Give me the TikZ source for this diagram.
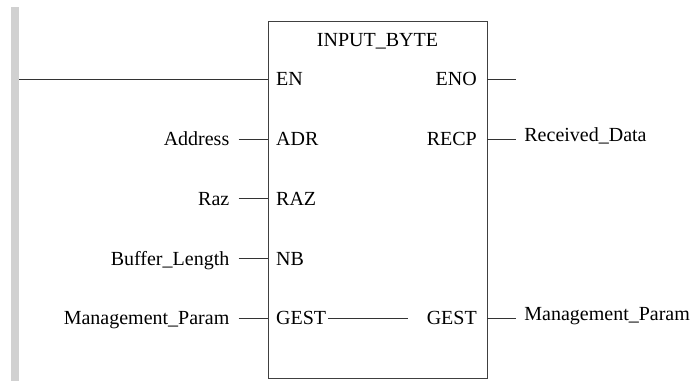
\documentclass[tikz,border=0pt]{standalone}
\usepackage{fontspec}
\setmainfont{Liberation Serif}
\begin{document}
\begin{tikzpicture}[x=1pt,y=-1pt,
  wire/.style={draw=black!80, line width=1pt},
  txt/.style={font=\fontsize{20}{24}\selectfont, inner ysep=0pt, text height=13.2pt, text depth=0pt, text=black},
  lext/.style={txt, anchor=east, inner xsep=9pt},
  lpin/.style={txt, anchor=west, inner xsep=8pt},
  rpin/.style={txt, anchor=east, inner xsep=10pt},
  rext/.style={txt, anchor=west, inner xsep=8.5pt, text depth=8pt},
  railbar/.style={fill=black!18, draw=none, inner sep=0pt, minimum width=8pt, minimum height=374pt, anchor=north west},
  block/.style={draw=black!75, line width=1pt, inner sep=0pt, minimum width=219pt, minimum height=357pt, anchor=north west}
]
\useasboundingbox (0,0) rectangle (691,381);
\node[railbar] (rail) at (11,7) {};
\node[block] (box) at (268,20.7) {};
\node[font=\fontsize{20}{24}\selectfont, anchor=base, inner sep=0pt] (title) at (377.5,46.7) {INPUT\_BYTE};
% pins
\node[lpin] (EN) at (268,79) {EN};
\node[rpin] (ENO) at (487,79) {ENO};
\coordinate (enoend) at (515.7,79);
\node[lpin] (ADR) at (268,139) {ADR};
\node[lext] (address) at (238.5,139) {Address};
\node[rpin] (RECP) at (487,139) {RECP};
\node[rext] (recdata) at (515.7,139) {Received\_Data};
\node[lpin] (RAZ) at (268,198.5) {RAZ};
\node[lext] (raz) at (238.5,198.5) {Raz};
\node[lpin] (NB) at (268,258.5) {NB};
\node[lext] (buflen) at (238.5,258.5) {Buffer\_Length};
\node[lpin] (GESTi) at (268,318) {GEST};
\node[lext] (mpin) at (238.5,318) {Management\_Param};
\node[rpin] (GESTo) at (487,318) {GEST};
\node[rext] (mpout) at (515.7,318) {Management\_Param};
% wires
\draw[wire] (rail.east |- EN.west) -- (EN.west);
\draw[wire] (ENO.east) -- (enoend);
\draw[wire] (address.east) -- (ADR.west);
\draw[wire] (RECP.east) -- (recdata.west);
\draw[wire] (raz.east) -- (RAZ.west);
\draw[wire] (buflen.east) -- (NB.west);
\draw[wire] (mpin.east) -- (GESTi.west);
\draw[wire] (GESTo.east) -- (mpout.west);
\draw[wire, shorten <=-6pt, shorten >=9pt] (GESTi.east) -- (GESTo.west);
\end{tikzpicture}
\end{document}
